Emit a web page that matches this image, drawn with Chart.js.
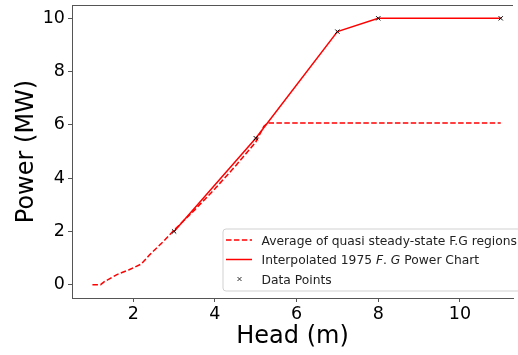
<!DOCTYPE html>
<html><head><meta charset="utf-8">
<script src="https://cdn.jsdelivr.net/npm/chart.js@4.4.0/dist/chart.umd.min.js"></script>
<style>html,body{margin:0;padding:0;background:#fff;overflow:hidden;}#wrap{width:518px;height:355px;}</style>
</head><body><div id="wrap"><canvas id="c" width="518" height="355" style="width:518px;height:355px"></canvas></div>
<script>
// ---- data ----
const avgHead  = [1.0, 1.2, 1.3, 1.6, 1.9, 2.2, 2.4, 2.75, 3.0, 3.5, 4.0, 4.5, 5.0, 5.2, 5.3, 11.0];
const avgPower = [0.0, 0.0, 0.12, 0.38, 0.56, 0.78, 1.12, 1.64, 2.05, 2.8, 3.6, 4.45, 5.35, 5.95, 6.07, 6.07];
const interpHead  = [3, 5, 7, 8, 11];
const interpPower = [2, 5.5, 9.5, 10, 10];
const pointHead  = [3, 5, 7, 8, 11];
const pointPower = [2, 5.5, 9.5, 10, 10];
const xTicks = [2, 4, 6, 8, 10];
const yTicks = [0, 2, 4, 6, 8, 10];
const seriesLabels = ['Average of quasi steady-state F.G regions', 'Interpolated 1975 F. G Power Chart', 'Data Points'];
const xTitle = 'Head (m)';
const yTitle = 'Power (MW)';

const toXY = (xs, ys) => xs.map((x, i) => ({x: x, y: ys[i]}));
const FONT = "'DejaVu Sans', sans-serif";
const SPINE = '#555';

const legendPlugin = {
  id: 'mplLegend',
  afterDraw(chart) {
    const ctx = chart.ctx;
    ctx.save();
    const x0 = 223, y0 = 229, w = 300, h = 62, r = 3;
    ctx.beginPath();
    ctx.moveTo(x0 + r, y0);
    ctx.lineTo(x0 + w - r, y0); ctx.arcTo(x0 + w, y0, x0 + w, y0 + r, r);
    ctx.lineTo(x0 + w, y0 + h - r); ctx.arcTo(x0 + w, y0 + h, x0 + w - r, y0 + h, r);
    ctx.lineTo(x0 + r, y0 + h); ctx.arcTo(x0, y0 + h, x0, y0 + h - r, r);
    ctx.lineTo(x0, y0 + r); ctx.arcTo(x0, y0, x0 + r, y0, r);
    ctx.closePath();
    ctx.fillStyle = 'rgba(255,255,255,0.85)';
    ctx.fill();
    ctx.strokeStyle = 'rgba(204,204,204,0.9)';
    ctx.lineWidth = 1;
    ctx.stroke();

    const mids = [240, 259.5, 279];
    const bases = [244.5, 264, 283.5];
    ctx.strokeStyle = 'red';
    ctx.lineWidth = 1.5;
    ctx.setLineDash([5.5, 2.4]);
    ctx.beginPath(); ctx.moveTo(226, mids[0]); ctx.lineTo(252, mids[0]); ctx.stroke();
    ctx.setLineDash([]);
    ctx.beginPath(); ctx.moveTo(226, mids[1]); ctx.lineTo(252, mids[1]); ctx.stroke();
    ctx.strokeStyle = '#333'; ctx.lineWidth = 1;
    const mx = 239.5, my = mids[2], s = 2;
    ctx.beginPath(); ctx.moveTo(mx - s, my - s); ctx.lineTo(mx + s, my + s);
    ctx.moveTo(mx - s, my + s); ctx.lineTo(mx + s, my - s); ctx.stroke();

    const fs = 12.3;
    const normal = fs + 'px ' + FONT, italic = 'italic ' + fs + 'px ' + FONT;
    ctx.fillStyle = '#222';
    ctx.textBaseline = 'alphabetic';
    ctx.textAlign = 'left';
    const tx = 261.5;
    ctx.font = normal; ctx.fillText(seriesLabels[0], tx, bases[0]);
    const parts = [['Interpolated 1975 ', normal], ['F', italic], ['. ', normal], ['G', italic], [' Power Chart', normal]];
    let cx = tx;
    parts.forEach(p => { ctx.font = p[1]; ctx.fillText(p[0], cx, bases[1]); cx += ctx.measureText(p[0]).width; });
    ctx.font = normal; ctx.fillText(seriesLabels[2], tx, bases[2]);
    ctx.restore();
  }
};

const framePlugin = {
  id: 'frame',
  afterDatasetsDraw(chart) {
    const a = chart.chartArea, ctx = chart.ctx;
    ctx.save();
    ctx.strokeStyle = SPINE; ctx.lineWidth = 1;
    ctx.beginPath();
    ctx.moveTo(a.left, a.top + 0.5); ctx.lineTo(a.right, a.top + 0.5);
    ctx.stroke();
    ctx.restore();
  }
};

new Chart(document.getElementById('c'), {
  type: 'scatter',
  data: {
    datasets: [
      { label: seriesLabels[0], data: toXY(avgHead, avgPower), showLine: true, borderColor: 'red', borderWidth: 1.5,
        borderDash: [5.5, 2.4], pointRadius: 0, pointHoverRadius: 0, fill: false, tension: 0, order: 3 },
      { label: seriesLabels[1], data: toXY(interpHead, interpPower), showLine: true, borderColor: 'red', borderWidth: 1.5,
        pointRadius: 0, pointHoverRadius: 0, fill: false, tension: 0, order: 2 },
      { label: seriesLabels[2], data: toXY(pointHead, pointPower), showLine: false, pointStyle: 'crossRot',
        pointRadius: 3, borderColor: 'black', backgroundColor: 'black', borderWidth: 1, order: 1 }
    ]
  },
  options: {
    responsive: false,
    animation: false,
    devicePixelRatio: 1,
    layout: { padding: { top: 1.5, right: 0, left: 0, bottom: 0 } },
    plugins: { legend: { display: false }, tooltip: { enabled: false } },
    scales: {
      x: {
        type: 'linear', min: 0.5, max: 11.3,
        afterBuildTicks: s => { s.ticks = xTicks.map(v => ({value: v})); },
        afterFit: s => { s.height = 57; s.paddingLeft = 0; s.paddingRight = 0; },
        grid: { display: true, drawOnChartArea: false, drawTicks: true, tickLength: 4, color: SPINE, lineWidth: 1 },
        border: { display: true, color: SPINE, width: 1 },
        ticks: { font: { family: FONT, size: 17.5 }, color: '#000', padding: 2, maxRotation: 0 },
        title: { display: true, text: xTitle, font: { family: FONT, size: 24 }, color: '#000', padding: { top: 0, bottom: 4 } }
      },
      y: {
        type: 'linear', min: -0.5, max: 10.5,
        afterBuildTicks: s => { s.ticks = yTicks.map(v => ({value: v})); },
        afterFit: s => { s.width = 72; s.paddingTop = 0; s.paddingBottom = 0; },
        grid: { display: true, drawOnChartArea: false, drawTicks: true, tickLength: 4, color: SPINE, lineWidth: 1 },
        border: { display: true, color: SPINE, width: 1 },
        ticks: { font: { family: FONT, size: 17.5 }, color: '#000', padding: 3 },
        title: { display: true, text: yTitle, font: { family: FONT, size: 24 }, color: '#000', padding: { top: 12, bottom: 0 } }
      }
    }
  },
  plugins: [legendPlugin, framePlugin]
});
</script></body></html>
